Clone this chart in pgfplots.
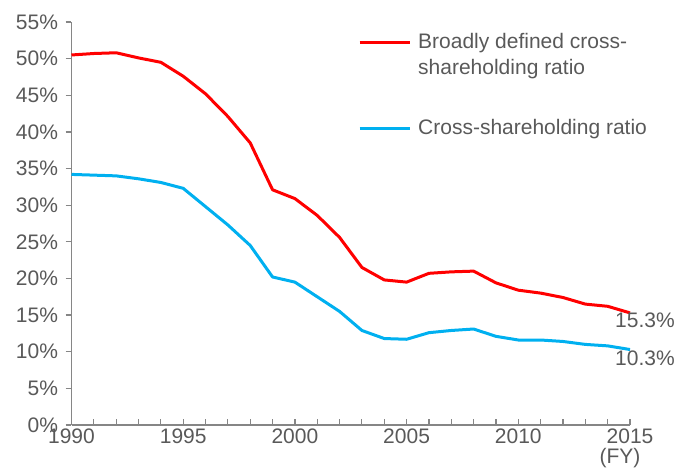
\documentclass[border=0pt]{standalone}
\usepackage{fontspec}
\setmainfont{Liberation Sans}
\usepackage{pgfplots}
\pgfplotsset{compat=1.18}
\definecolor{redline}{HTML}{FF0000}
\definecolor{blueline}{HTML}{00B0F0}
\definecolor{txt}{HTML}{595959}
\definecolor{axisgray}{HTML}{868686}
\begin{document}
\begin{tikzpicture}[x=1pt,y=1pt]
\begin{axis}[
  scale only axis, width=558.5pt, height=403pt,
  at={(0pt,0pt)}, anchor=south west,
  xmin=1990, xmax=2015, ymin=0, ymax=55,
  clip=false,
  axis x line=bottom, axis y line=left,
  axis line style={-, axisgray, line width=1.5pt},
  xtick={1990,1995,...,2015},
  minor xtick={1990,...,2015},
  ytick={0,5,...,55},
  tick align=inside,
  major tick length=6pt, minor tick length=6pt,
  tick style={axisgray, line width=1.2pt},
  ytick style={xshift=-6pt},
  font=\fontsize{21}{26}\selectfont,
  /pgf/number format/assume math mode=true,
  /pgf/number format/1000 sep={},
  ticklabel style={text=txt},
  yticklabel={\pgfmathprintnumber{\tick}\%},
  yticklabel style={xshift=-10pt},
  legend style={draw=none, fill=none, at={(rel axis cs:0.513,0.985)}, anchor=north west,
    inner sep=0pt, row sep=65pt, font=\fontsize{21}{26}\selectfont, text=txt,
    cells={anchor=base west},
    /tikz/every odd column/.append style={column sep=5pt}},
  legend image code/.code={\draw[#1] (0pt,5.5pt) -- (50pt,5.5pt);},
]
\addplot[redline, line width=3pt, line join=round] coordinates {
(1990,50.5)(1991,50.7)(1992,50.8)(1993,50.1)(1994,49.5)(1995,47.6)(1996,45.2)(1997,42.1)(1998,38.5)(1999,32.1)(2000,30.9)(2001,28.6)(2002,25.6)(2003,21.5)(2004,19.8)(2005,19.5)(2006,20.7)(2007,20.9)(2008,21.0)(2009,19.4)(2010,18.4)(2011,18.0)(2012,17.4)(2013,16.5)(2014,16.2)(2015,15.3)};
\addlegendentry{\begin{tabular}[t]{@{}l@{}}Broadly defined cross-\\shareholding ratio\end{tabular}}
\addplot[blueline, line width=3pt, line join=round] coordinates {
(1990,34.2)(1991,34.1)(1992,34.0)(1993,33.6)(1994,33.1)(1995,32.3)(1996,29.8)(1997,27.3)(1998,24.5)(1999,20.2)(2000,19.5)(2001,17.5)(2002,15.5)(2003,12.9)(2004,11.8)(2005,11.7)(2006,12.6)(2007,12.9)(2008,13.1)(2009,12.1)(2010,11.6)(2011,11.6)(2012,11.4)(2013,11.0)(2014,10.8)(2015,10.3)};
\addlegendentry{Cross-shareholding ratio}
\node[anchor=west, text=txt, inner sep=0pt] at (axis cs:2014.33,14.3) {15.3\%};
\node[anchor=west, text=txt, inner sep=0pt] at (axis cs:2014.33,9.15) {10.3\%};
\node[text=txt, inner sep=0pt] at (axis cs:2014.55,-4.5) {(FY)};
\end{axis}
\path[use as bounding box] (-71.5pt,-44pt) rectangle (605.5pt,425pt);
\end{tikzpicture}
\end{document}
